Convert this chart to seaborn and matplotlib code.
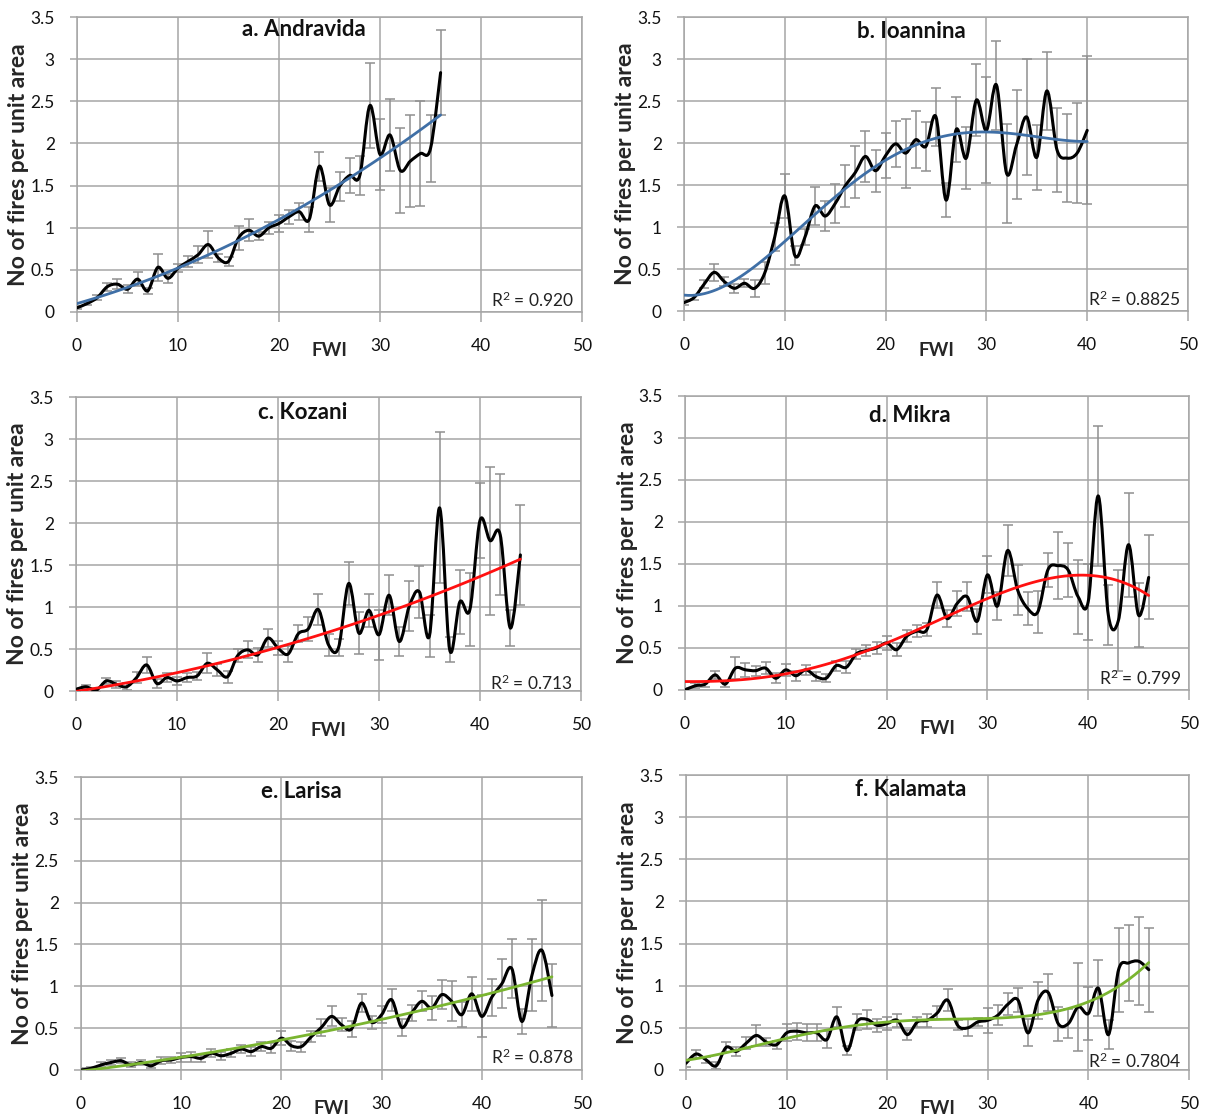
import numpy as np
import matplotlib
matplotlib.use("Agg")
import matplotlib.pyplot as plt
from matplotlib.path import Path
from matplotlib.patches import PathPatch
import seaborn as sns

sns.set_style("white")
plt.rcParams['font.family'] = ['Lato', 'DejaVu Sans']
plt.rcParams['mathtext.fontset'] = 'custom'
plt.rcParams['mathtext.rm'] = 'Lato'

# mean number of fires per unit area at each integer FWI value, with error half-widths
a_vals = [0.05, 0.10, 0.17, 0.30, 0.33, 0.27, 0.39, 0.25, 0.53, 0.40, 0.52, 0.60, 0.68, 0.80, 0.64, 0.60,
          0.88, 0.97, 0.90, 1.00, 1.05, 1.13, 1.19, 1.10, 1.73, 1.27, 1.49, 1.62, 1.62, 2.45, 1.87, 2.10,
          1.68, 1.79, 1.88, 1.94, 2.84]
a_err = [0.02, 0.02, 0.03, 0.05, 0.06, 0.05, 0.08, 0.04, 0.16, 0.05, 0.05, 0.07, 0.10, 0.16, 0.05, 0.05,
         0.14, 0.13, 0.05, 0.07, 0.10, 0.08, 0.10, 0.15, 0.17, 0.20, 0.17, 0.21, 0.23, 0.50, 0.42, 0.43,
         0.50, 0.55, 0.62, 0.40, 0.50]

b_vals = [0.10, 0.16, 0.32, 0.46, 0.35, 0.27, 0.33, 0.27, 0.45, 0.88, 1.37, 0.66, 0.88, 1.25, 1.13, 1.28,
          1.49, 1.65, 1.84, 1.67, 1.85, 1.99, 1.88, 2.04, 1.96, 2.31, 1.32, 2.16, 1.82, 2.51, 2.15, 2.69,
          1.64, 1.98, 2.31, 1.83, 2.62, 1.92, 1.82, 1.88, 2.15]
b_err = [0.03, 0.03, 0.05, 0.10, 0.05, 0.05, 0.05, 0.10, 0.13, 0.17, 0.26, 0.11, 0.10, 0.23, 0.18, 0.23,
         0.25, 0.31, 0.30, 0.25, 0.27, 0.27, 0.41, 0.34, 0.29, 0.35, 0.20, 0.39, 0.37, 0.43, 0.63, 0.53,
         0.59, 0.65, 0.69, 0.39, 0.46, 0.50, 0.52, 0.60, 0.88]

c_vals = [0.02, 0.05, 0.01, 0.12, 0.08, 0.05, 0.16, 0.31, 0.09, 0.16, 0.12, 0.16, 0.18, 0.33, 0.25, 0.17,
          0.42, 0.49, 0.43, 0.63, 0.51, 0.44, 0.68, 0.74, 0.97, 0.55, 0.52, 1.28, 0.69, 0.96, 0.67, 1.14,
          0.59, 1.01, 1.18, 0.66, 2.18, 0.49, 1.06, 0.97, 2.03, 1.79, 1.86, 0.75, 1.62]
c_err = [0.02, 0.02, 0.02, 0.04, 0.04, 0.04, 0.07, 0.09, 0.05, 0.05, 0.05, 0.05, 0.05, 0.12, 0.07, 0.07,
         0.08, 0.10, 0.08, 0.11, 0.08, 0.10, 0.10, 0.14, 0.19, 0.13, 0.10, 0.26, 0.25, 0.20, 0.30, 0.24,
         0.17, 0.30, 0.31, 0.25, 0.90, 0.15, 0.38, 0.43, 0.45, 0.88, 0.72, 0.22, 0.60]

d_vals = [0.00, 0.05, 0.07, 0.18, 0.07, 0.26, 0.24, 0.23, 0.26, 0.14, 0.24, 0.17, 0.24, 0.16, 0.14, 0.29,
          0.27, 0.43, 0.47, 0.50, 0.56, 0.48, 0.64, 0.70, 0.72, 1.13, 0.85, 1.03, 1.11, 0.82, 1.37, 1.00,
          1.66, 1.19, 0.97, 0.93, 1.43, 1.48, 1.43, 1.11, 1.05, 2.31, 0.89, 0.83, 1.73, 0.89, 1.34]
d_err = [0.02, 0.03, 0.03, 0.05, 0.04, 0.13, 0.08, 0.06, 0.07, 0.06, 0.07, 0.06, 0.06, 0.05, 0.05, 0.06,
         0.07, 0.06, 0.06, 0.07, 0.08, 0.08, 0.07, 0.07, 0.08, 0.15, 0.10, 0.15, 0.17, 0.15, 0.22, 0.17,
         0.30, 0.30, 0.20, 0.25, 0.20, 0.40, 0.32, 0.44, 0.45, 0.83, 0.36, 0.60, 0.62, 0.38, 0.50]

e_vals = [0.00, 0.02, 0.06, 0.09, 0.11, 0.06, 0.09, 0.05, 0.11, 0.12, 0.15, 0.16, 0.14, 0.20, 0.17, 0.20,
          0.25, 0.22, 0.28, 0.26, 0.38, 0.29, 0.28, 0.40, 0.51, 0.64, 0.54, 0.49, 0.80, 0.57, 0.66, 0.84,
          0.51, 0.68, 0.82, 0.74, 0.90, 0.82, 0.66, 0.91, 0.64, 0.87, 1.03, 1.21, 0.58, 1.13, 1.43, 0.89]
e_err = [0.02, 0.02, 0.03, 0.03, 0.03, 0.03, 0.03, 0.03, 0.04, 0.04, 0.05, 0.06, 0.04, 0.05, 0.05, 0.05,
         0.05, 0.05, 0.05, 0.06, 0.08, 0.06, 0.06, 0.07, 0.10, 0.12, 0.08, 0.10, 0.11, 0.08, 0.10, 0.13,
         0.10, 0.10, 0.12, 0.14, 0.17, 0.24, 0.15, 0.20, 0.25, 0.22, 0.29, 0.35, 0.15, 0.43, 0.60, 0.38]

f_vals = [0.08, 0.19, 0.12, 0.05, 0.27, 0.22, 0.32, 0.41, 0.33, 0.30, 0.44, 0.46, 0.44, 0.44, 0.36, 0.63,
          0.23, 0.57, 0.60, 0.53, 0.55, 0.59, 0.42, 0.57, 0.59, 0.68, 0.83, 0.53, 0.50, 0.57, 0.59, 0.65,
          0.78, 0.83, 0.44, 0.83, 0.92, 0.55, 0.55, 0.75, 0.67, 0.97, 0.42, 1.19, 1.27, 1.29, 1.19]
f_err = [0.04, 0.05, 0.04, 0.04, 0.06, 0.05, 0.07, 0.12, 0.05, 0.05, 0.10, 0.10, 0.10, 0.10, 0.10, 0.12,
         0.05, 0.10, 0.11, 0.08, 0.08, 0.08, 0.06, 0.06, 0.08, 0.08, 0.13, 0.06, 0.10, 0.05, 0.15, 0.12,
         0.13, 0.14, 0.16, 0.22, 0.22, 0.20, 0.17, 0.52, 0.31, 0.33, 0.17, 0.50, 0.45, 0.52, 0.50]

titles = ["a. Andravida", "b. Ioannina", "c. Kozani", "d. Mikra", "e. Larisa", "f. Kalamata"]
r2_values = ["0.920", "0.8825", "0.713", "0.799", "0.878", "0.7804"]
fit_orders = [2, 4, 2, 4, 2, 4]
fit_colors = ["#3f6fa6", "#3f6fa6", "#ff1010", "#ff1010", "#7ab530", "#7ab530"]
all_vals = [a_vals, b_vals, c_vals, d_vals, e_vals, f_vals]
all_errs = [a_err, b_err, c_err, d_err, e_err, f_err]

x_ticks = [0, 10, 20, 30, 40, 50]
y_ticks = [0, 0.5, 1, 1.5, 2, 2.5, 3, 3.5]
y_ticklabels = ["0", "0.5", "1", "1.5", "2", "2.5", "3", "3.5"]

# axes boxes in pixels: left, top, right, bottom
W, H = 1206, 1116
boxes = [(77, 17, 582, 312), (684, 17, 1188, 311),
         (76, 397, 581, 691), (685, 396, 1189, 690),
         (81, 777, 582, 1070), (686, 775, 1189, 1070)]
title_pos = [(0.45, 0.956), (0.452, 0.95), (0.448, 0.946), (0.447, 0.935), (0.44, 0.95), (0.446, 0.95)]
r2_y = [0.04, 0.04, 0.025, 0.04, 0.045, 0.03]

GRID = "#a6a6a6"


def smooth_path(xs, ys):
    # Excel-style smoothed line drawn as cubic Bezier segments through the data points
    pts = np.column_stack([xs, ys]).astype(float)
    n = len(pts)
    verts = [pts[0]]
    codes = [Path.MOVETO]
    for i in range(n - 1):
        p0 = pts[max(i - 1, 0)]
        p1 = pts[i]
        p2 = pts[i + 1]
        p3 = pts[min(i + 2, n - 1)]
        verts += [p1 + (p2 - p0) / 6.0, p2 - (p3 - p1) / 6.0, p2]
        codes += [Path.CURVE4] * 3
    return Path(verts, codes)


fig = plt.figure(figsize=(W / 100, H / 100), dpi=100)

for i in range(6):
    l, t, r, b = boxes[i]
    ax = fig.add_axes([l / W, 1 - b / H, (r - l) / W, (b - t) / H])
    vals = np.array(all_vals[i])
    errs = np.array(all_errs[i])
    fwi = np.arange(len(vals))

    ax.errorbar(fwi, vals, yerr=errs, fmt="none", ecolor="#8f8f8f", elinewidth=1.1,
                capsize=3.5, capthick=1.1, zorder=2)
    ax.add_patch(PathPatch(smooth_path(fwi, vals), facecolor="none", edgecolor="black",
                           lw=2.2, zorder=3, capstyle="round", joinstyle="round"))
    sns.regplot(x=fwi, y=vals, ax=ax, order=fit_orders[i], ci=None, scatter=False, truncate=True,
                line_kws=dict(color=fit_colors[i], lw=2.0, zorder=4))

    ax.set_xlim(0, 50)
    ax.set_ylim(0, 3.5)
    ax.set_xticks(x_ticks)
    ax.set_xticklabels([str(v) for v in x_ticks])
    ax.set_yticks(y_ticks)
    ax.set_yticklabels(y_ticklabels)
    ax.grid(True, color=GRID, lw=1.1)
    ax.set_axisbelow(True)
    for sp in ax.spines.values():
        sp.set_color(GRID)
        sp.set_linewidth(1.1)
        sp.set_visible(True)
    ax.tick_params(axis="x", direction="out", length=7, width=1.1, color=GRID,
                   pad=12, labelsize=12.5, labelcolor="#111111")
    ax.tick_params(axis="y", direction="out", length=5, width=1.1, color=GRID,
                   pad=11, labelsize=12.5, labelcolor="#111111")
    ax.tick_params(left=True, bottom=True)

    ax.set_xlabel("FWI", fontsize=13.5, fontweight="bold")
    ax.xaxis.label.set_va("center")
    ax.xaxis.set_label_coords(0.5, -39 / (b - t))
    ax.set_ylabel("No of fires per unit area", fontsize=16.5, fontweight="bold")
    ax.yaxis.label.set_va("center")
    ax.yaxis.set_label_coords(-58 / (r - l), 0.5)

    tx, ty = title_pos[i]
    ax.text(tx, ty, titles[i], transform=ax.transAxes, ha="center", va="center",
            fontsize=16, fontweight="bold", color="#111111", zorder=5)
    ax.text(0.985, r2_y[i], r"$\mathregular{R^2}$ = " + r2_values[i], transform=ax.transAxes,
            ha="right", va="center", fontsize=12.5, color="#222222", zorder=5)

fig.savefig("out.png", dpi=100)
